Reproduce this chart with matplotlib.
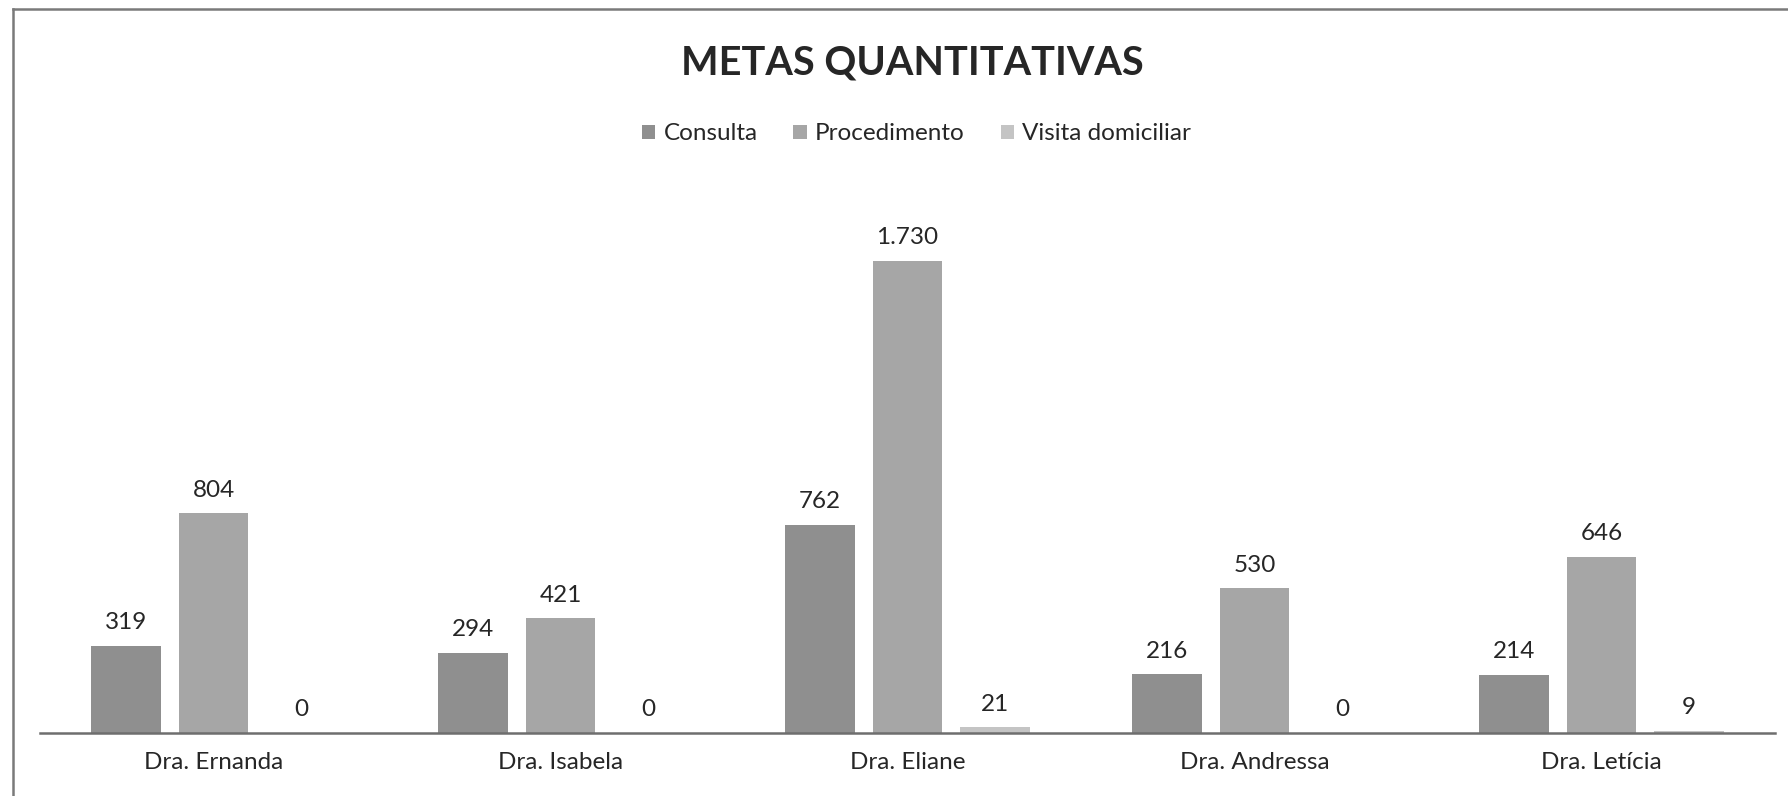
import numpy as np
import matplotlib
matplotlib.use("Agg")
import matplotlib.pyplot as plt
from matplotlib.patches import Patch
from matplotlib.lines import Line2D

categories = ["Dra. Ernanda", "Dra. Isabela", "Dra. Eliane", "Dra. Andressa", "Dra. Letícia"]
series_names = ["Consulta", "Procedimento", "Visita domiciliar"]
consulta = [319, 294, 762, 216, 214]
procedimento = [804, 421, 1730, 530, 646]
visita = [0, 0, 21, 0, 9]
colors = ["#8f8f8f", "#a6a6a6", "#c4c4c4"]

plt.rcParams['font.family'] = ['Lato', 'DejaVu Sans']
text_color = "#262626"

W, H = 1788, 796
fig = plt.figure(figsize=(W / 100, H / 100), dpi=100)
ax = fig.add_axes([40 / W, 1 - 733 / H, (1775 - 40) / W, (733 - 200) / H])

x = np.arange(len(categories))
width = 0.2
step = 0.252
data = [consulta, procedimento, visita]
for i, (vals, name, c) in enumerate(zip(data, series_names, colors)):
    bars = ax.bar(x + (i - 1) * step, vals, width, color=c, label=name)
    labels = [f"{v:,}".replace(",", ".") for v in vals]
    ax.bar_label(bars, labels=labels, padding=9, fontsize=17.5, color=text_color)

ax.set_xlim(-0.5, len(categories) - 0.5)
ax.set_ylim(0, 1952)
ax.set_xticks(x)
ax.set_xticklabels(categories, fontsize=17.5, color=text_color)
ax.tick_params(axis='x', length=0, pad=14)
ax.set_yticks([])
for s in ["top", "right", "left"]:
    ax.spines[s].set_visible(False)
ax.spines["bottom"].set_color("#6e6e6e")
ax.spines["bottom"].set_linewidth(1.8)

fig.text(912 / W, 1 - 74 / H, "METAS QUANTITATIVAS", ha="center", va="baseline",
         fontsize=28.5, fontweight="bold", color="#262626")

handles = [Patch(facecolor=c, edgecolor="none") for c in colors]
fig.legend(handles, series_names, loc="center left", bbox_to_anchor=(642 / W, 1 - 134 / H),
           ncol=3, frameon=False, fontsize=17.5, handlelength=0.55, handleheight=0.55,
           handletextpad=0.33, columnspacing=1.48, borderpad=0, borderaxespad=0,
           labelcolor=text_color)

# chart area border (left and top edges visible in the scan)
fig.add_artist(Line2D([13 / W, 13 / W], [0, 1 - 9 / H], color="#7a7a7a", lw=1.8,
                      transform=fig.transFigure))
fig.add_artist(Line2D([13 / W, 1], [1 - 9 / H, 1 - 9 / H], color="#7a7a7a", lw=1.8,
                      transform=fig.transFigure))

fig.savefig("out.png", dpi=100, facecolor="white")
